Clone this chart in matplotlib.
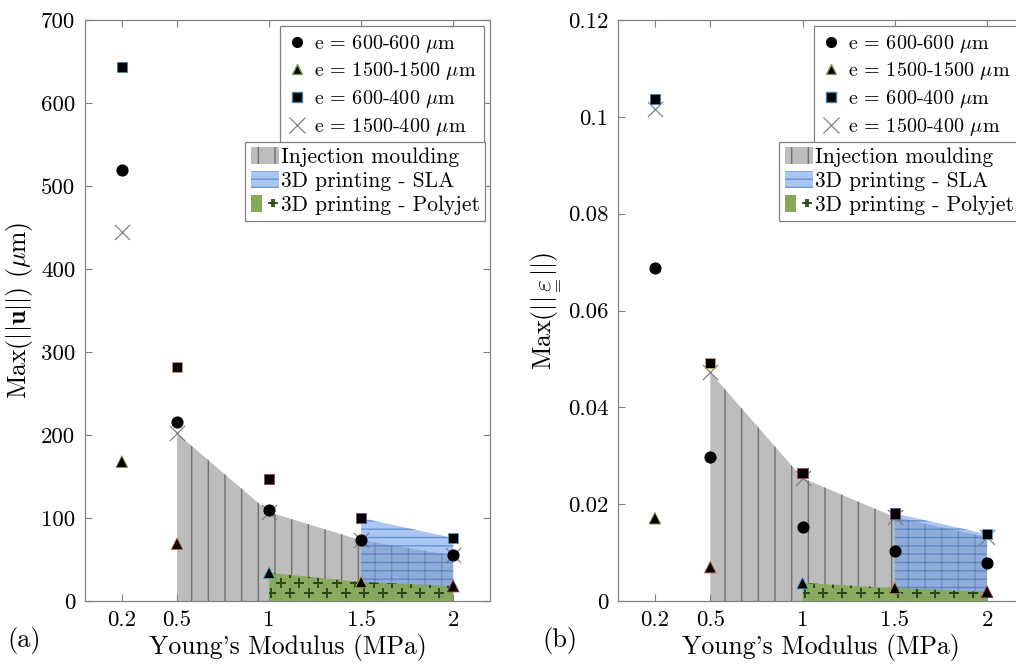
import numpy as np
import matplotlib
matplotlib.use('Agg')
import matplotlib.pyplot as plt
from matplotlib.lines import Line2D
from matplotlib.patches import Patch
from matplotlib.legend_handler import HandlerTuple

plt.rcParams['font.family'] = 'serif'
plt.rcParams['font.serif'] = ['cmr10']
plt.rcParams['mathtext.fontset'] = 'cm'
plt.rcParams['axes.formatter.use_mathtext'] = True

# Young's modulus (MPa)
E = [0.2, 0.5, 1, 1.5, 2]

# max displacement (um)
u_600_600 = [519, 216, 110, 73, 55]
u_1500_1500 = [168, 69, 34, 23, 18]
u_600_400 = [643, 282, 147, 100, 76]
u_1500_400 = [445, 202, 107, 73, 55]

# max strain
eps_600_600 = [0.0687, 0.0297, 0.0153, 0.0103, 0.0078]
eps_1500_1500 = [0.0171, 0.0070, 0.0037, 0.0027, 0.0019]
eps_600_400 = [0.1037, 0.0492, 0.0264, 0.0181, 0.0138]
eps_1500_400 = [0.1016, 0.0472, 0.0254, 0.0173, 0.0132]

# modulus range of each manufacturing process
E_injection = [0.5, 1, 1.5, 2]
E_sla = [1.5, 2]
E_polyjet = [1, 1.5, 2]

series_labels = [r'e = 600-600 $\mu$m', r'e = 1500-1500 $\mu$m',
                 r'e = 600-400 $\mu$m', r'e = 1500-400 $\mu$m']
process_labels = ['Injection moulding', '3D printing - SLA', '3D printing - Polyjet']

xtick_vals = [0.2, 0.5, 1, 1.5, 2]
xtick_labels = ['0.2', '0.5', '1', '1.5', '2']

# matlab colour order, used for marker edges point by point
sq_edges = ['#3b7fb0', '#c9a060', '#a04050', '#7e4f8e', '#4d9ebe']
tri_edges = ['#7f9c50', '#c96a40', '#4daecc', '#c9a040', '#a02a3f']

gray_fc, gray_hc = '#bdbdbd', '#6f6f6f'
blue_fc, blue_hc = '#70a0ee', '#3f6fb8'
green_fc, plus_c = '#86a957', '#2b4a17'
axcol = '#808080'


def pick(xs, ys, sub):
    return [ys[xs.index(v)] for v in sub]


def plus_hatch(ax, poly, dx=0.046, dy=0.0175):
    xs, ys = [], []
    for j, yy in enumerate(np.arange(0.8 * dy, 1, dy)):
        off = dx / 2 if j % 2 else 0
        for xx in np.arange(off, 1, dx):
            xs.append(xx)
            ys.append(yy)
    pts, = ax.plot(xs, ys, '+', transform=ax.transAxes, color=plus_c,
                   ms=7, mew=1.4, zorder=4)
    pts.set_clip_path(poly.get_paths()[0], ax.transData)


def panel(ax, d66, d1515, d64, d154, ylim, yticks, yticklabels, ylabel):
    g = ax.fill_between(E_injection, 0, pick(E, d154, E_injection), facecolor=gray_fc,
                        edgecolor=gray_hc, hatch='|', lw=0, zorder=1)
    b = ax.fill_between(E_sla, 0, pick(E, d64, E_sla), facecolor=blue_fc, alpha=0.6,
                        edgecolor=blue_hc, hatch='--', lw=0, zorder=2)
    gr = ax.fill_between(E_polyjet, 0, pick(E, d1515, E_polyjet), facecolor=green_fc,
                         alpha=0.92, lw=0, zorder=3)
    plus_hatch(ax, gr)

    ax.scatter(E, d154, marker='x', s=120, c='#777777', linewidths=0.8, zorder=5)
    ax.scatter(E, d66, marker='o', s=60, c='k', edgecolors='k', zorder=6)
    ax.scatter(E, d1515, marker='^', s=70, c='k', edgecolors=tri_edges, linewidths=0.6, zorder=6)
    ax.scatter(E, d64, marker='s', s=55, c='k', edgecolors=sq_edges, linewidths=0.6, zorder=6)

    ax.set_xlim(0, 2.2)
    ax.set_ylim(*ylim)
    ax.set_xticks(xtick_vals)
    ax.set_xticklabels(xtick_labels)
    ax.set_yticks(yticks)
    ax.set_yticklabels(yticklabels)
    ax.tick_params(direction='in', top=True, right=True, length=5, width=0.8,
                   color=axcol, labelsize=16.5, pad=7)
    for s in ax.spines.values():
        s.set_color(axcol)
        s.set_linewidth(0.9)
    ax.set_xlabel("Young's Modulus (MPa)", fontsize=18.5, labelpad=3)
    ax.set_ylabel(ylabel, fontsize=18.5, labelpad=4)

    h1 = [Line2D([], [], marker='o', ls='none', color='k', ms=7),
          Line2D([], [], marker='^', ls='none', color='k', mec=tri_edges[0], ms=7.5),
          Line2D([], [], marker='s', ls='none', color='k', mec=sq_edges[0], ms=7),
          Line2D([], [], marker='x', ls='none', color='#777777', mew=0.8, ms=11)]
    leg1 = ax.legend(h1, series_labels, loc='upper right', bbox_to_anchor=(0.985, 0.99),
                     borderaxespad=0, fontsize=14.5, numpoints=1, handlelength=1.0,
                     handletextpad=0.35, labelspacing=0.28, fancybox=False, framealpha=1,
                     edgecolor=axcol, borderpad=0.35)
    leg1.get_frame().set_linewidth(0.9)
    ax.add_artist(leg1)

    h2 = [Patch(facecolor=gray_fc, edgecolor=gray_hc, hatch='|', lw=0),
          Patch(facecolor=blue_fc, alpha=0.6, edgecolor=blue_hc, hatch='--', lw=0),
          (Patch(facecolor=green_fc, lw=0),
           Line2D([], [], marker='+', ls='none', color=plus_c, ms=6, mew=1.3))]
    leg2 = ax.legend(h2, process_labels, loc='upper right', bbox_to_anchor=(0.988, 0.79),
                     borderaxespad=0, fontsize=15.5, numpoints=2, handlelength=1.3,
                     handleheight=0.8, handletextpad=0.1, labelspacing=0.2, fancybox=False,
                     framealpha=1, edgecolor=axcol, borderpad=0.25,
                     handler_map={tuple: HandlerTuple(ndivide=None)})
    leg2.get_frame().set_linewidth(0.9)


fig = plt.figure(figsize=(10.16, 6.68), dpi=100)
ax1 = fig.add_axes([85 / 1016, 67 / 668, 405 / 1016, 581 / 668])
ax2 = fig.add_axes([618 / 1016, 67 / 668, 406 / 1016, 581 / 668])

panel(ax1, u_600_600, u_1500_1500, u_600_400, u_1500_400, (0, 700),
      np.arange(0, 701, 100), [str(v) for v in range(0, 701, 100)],
      r'Max($||\mathbf{u}||$) ($\mu$m)')
eps_ticks = [0, 0.02, 0.04, 0.06, 0.08, 0.1, 0.12]
panel(ax2, eps_600_600, eps_1500_1500, eps_600_400, eps_1500_400, (0, 0.12),
      eps_ticks, ['%g' % v for v in eps_ticks],
      r'Max($||\underset{=}{\varepsilon}||$)')

fig.text(24 / 1016, 1 - 640 / 668, '(a)', fontsize=19, ha='center', va='center')
fig.text(560 / 1016, 1 - 640 / 668, '(b)', fontsize=19, ha='center', va='center')

fig.savefig('out.png', dpi=100)
